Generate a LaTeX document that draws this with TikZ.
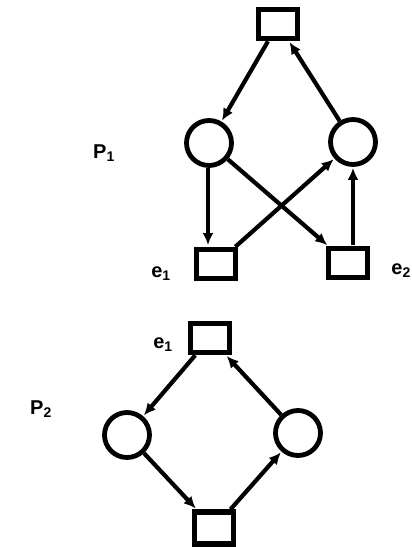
\documentclass[tikz,border=0pt]{standalone}
\usepackage{fontspec}
\setmainfont{Liberation Sans}
\usetikzlibrary{arrows.meta}
\begin{document}
\begin{tikzpicture}[x=1pt,y=-1pt,
  trans/.style={draw, line width=5.5pt, minimum width=39pt, minimum height=29pt, inner sep=0pt},
  place/.style={draw, circle, line width=4.8pt, minimum size=45pt, inner sep=0pt},
  arc/.style={line width=4.2pt, -{Latex[length=12pt,width=11pt]}, shorten >=1pt},
  lbl/.style={font=\bfseries\fontsize{20}{22}\selectfont, inner sep=0pt}]
\useasboundingbox (0,0) rectangle (412,547);
% P1
\node[trans] (t1) at (278,24) {};
\node[place] (p1) at (209,143) {};
\node[place] (p2) at (353,142) {};
\node[trans] (e1a) at (216,264) {};
\node[trans] (e2a) at (348,263) {};
\node[lbl] (P1) at (104,153) {P$_{\mathbf 1}$};
\node[lbl] (le1) at (161,274) {e$_{\mathbf 1}$};
\node[lbl, anchor=east] (le2) at (411,271) {e$_{\mathbf 2}$};
\draw[arc] (t1) -- (p1);
\draw[arc] (p2) -- (t1);
\draw[arc] (p1.south -| 208,0) -- (208,246);
\draw[arc] (p1) -- (e2a);
\draw[arc] (e1a) -- (p2);
\draw[arc] (353,245) -- (p2.south);
% P2
\node[trans] (t2) at (210,338) {};
\node[place] (q1) at (127,435) {};
\node[place] (q2) at (298,433) {};
\node[trans, minimum height=32pt] (t3) at (214,528) {};
\node[lbl] (le1b) at (163,345) {e$_{\mathbf 1}$};
\node[lbl] (P2) at (41,409) {P$_{\mathbf 2}$};
\draw[arc] (t2) -- (q1);
\draw[arc] (q1) -- (t3);
\draw[arc] (t3) -- (q2);
\draw[arc] (q2) -- (t2);
\end{tikzpicture}
\end{document}
